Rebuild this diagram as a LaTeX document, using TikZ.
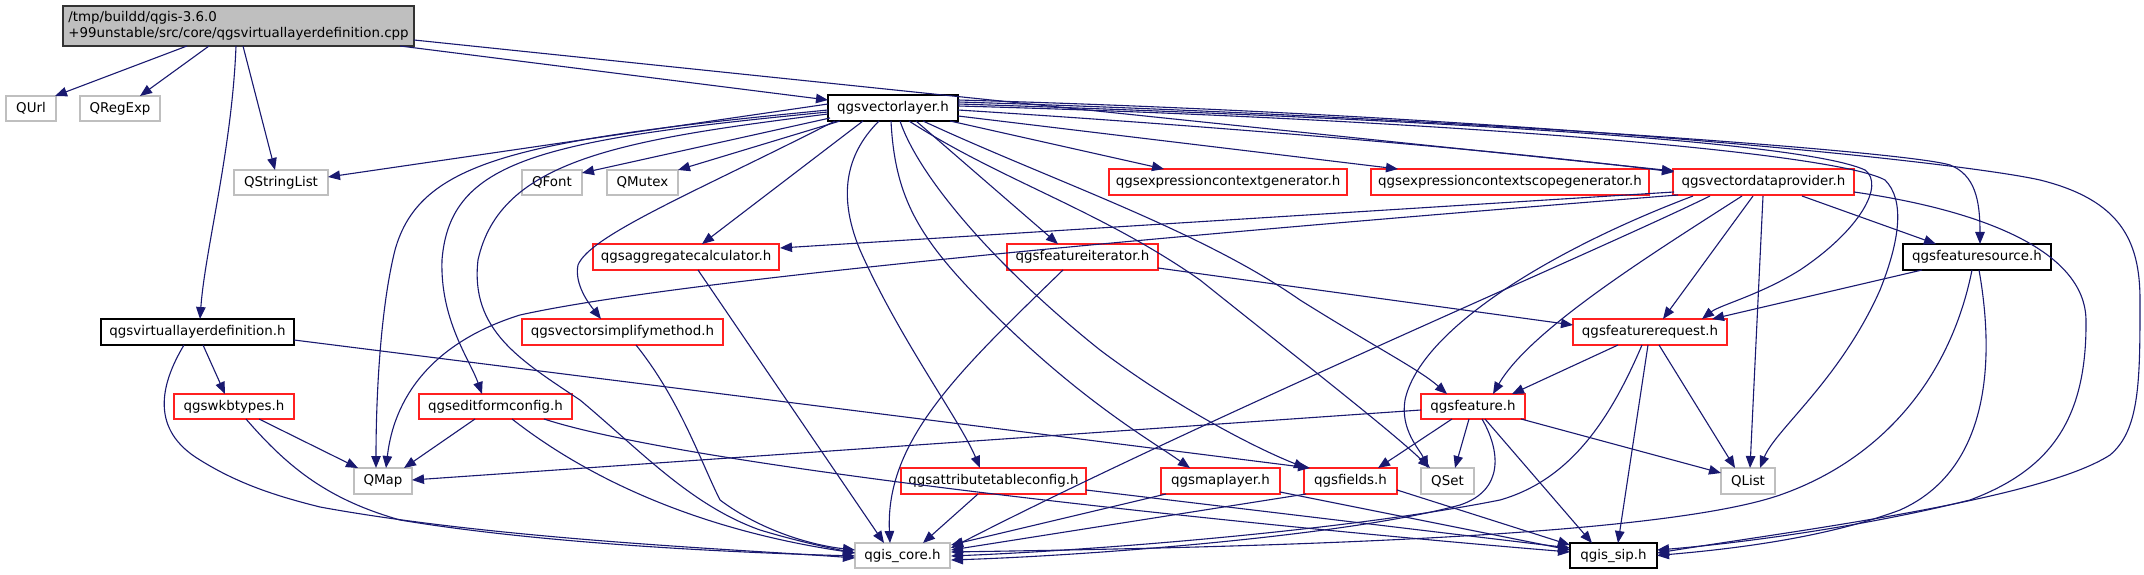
\documentclass[tikz,border=0pt]{standalone}
\usepackage{fontspec}
\setmainfont{DejaVu Sans}
\usetikzlibrary{arrows.meta,calc}
\definecolor{edgeblue}{HTML}{191970}
\definecolor{boxgray}{HTML}{BFBFBF}
\definecolor{boxred}{HTML}{FF2020}
\tikzset{
  box/.style={draw, line width=1.2bp, minimum height=26bp, inner sep=0pt, text=black,
    font=\fontsize{13.4bp}{15.5bp}\selectfont},
  gbox/.style={box, draw=boxgray},
  rbox/.style={box, draw=boxred},
  bbox/.style={box, draw=black},
  dep/.style={draw=edgeblue, line width=1.1bp, -{Triangle[length=12bp,width=9.5bp]}}
}
\begin{document}
\begin{tikzpicture}[x=1bp,y=-1bp]
\useasboundingbox[fill=white] (0,0) rectangle (2144,575);
% nodes
\node[box, fill=boxgray, draw=black!80, minimum width=351bp, minimum height=40bp, align=left] (root) at (238.5,26) {/tmp/buildd/qgis-3.6.0\\+99unstable/src/core/qgsvirtuallayerdefinition.cpp};
\node[gbox, minimum width=50bp, minimum height=25bp] (qurl) at (31,108.5) {QUrl};
\node[gbox, minimum width=80bp, minimum height=25bp] (qregexp) at (120,108.5) {QRegExp};
\node[gbox, minimum width=94bp, minimum height=25bp] (qsl) at (281,182.5) {QStringList};
\node[gbox, minimum width=60bp, minimum height=25bp] (qfont) at (552,182.5) {QFont};
\node[gbox, minimum width=71bp, minimum height=25bp] (qmutex) at (642.5,182.5) {QMutex};
\node[bbox, minimum width=130bp] (vl) at (893,108) {qgsvectorlayer.h};
\node[rbox, minimum width=238bp] (egen) at (1228,182) {qgsexpressioncontextgenerator.h};
\node[rbox, minimum width=278bp] (escope) at (1510,182) {qgsexpressioncontextscopegenerator.h};
\node[rbox, minimum width=181bp] (prov) at (1763.5,182) {qgsvectordataprovider.h};
\node[bbox, minimum width=148bp] (fsrc) at (1977,257) {qgsfeaturesource.h};
\node[rbox, minimum width=186bp] (agg) at (686,257) {qgsaggregatecalculator.h};
\node[rbox, minimum width=151bp] (fit) at (1082.5,257) {qgsfeatureiterator.h};
\node[bbox, minimum width=193bp] (vld) at (197.5,332) {qgsvirtuallayerdefinition.h};
\node[rbox, minimum width=201bp] (vsm) at (622.5,332) {qgsvectorsimplifymethod.h};
\node[rbox, minimum width=154bp] (freq) at (1650,332) {qgsfeaturerequest.h};
\node[rbox, minimum width=120bp, minimum height=25bp] (wkb) at (234,406.5) {qgswkbtypes.h};
\node[rbox, minimum width=153bp, minimum height=25bp] (efc) at (495.5,406.5) {qgseditformconfig.h};
\node[rbox, minimum width=104bp, minimum height=25bp] (feat) at (1473,406.5) {qgsfeature.h};
\node[gbox, minimum width=58bp] (qmap) at (383,481) {QMap};
\node[rbox, minimum width=185bp] (atc) at (993.5,481) {qgsattributetableconfig.h};
\node[rbox, minimum width=119bp] (ml) at (1220.5,481) {qgsmaplayer.h};
\node[rbox, minimum width=93bp] (fld) at (1350.5,481) {qgsfields.h};
\node[gbox, minimum width=53bp] (qset) at (1447.5,481) {QSet};
\node[gbox, minimum width=54bp] (qlist) at (1748,481) {QList};
\node[gbox, minimum width=95bp, minimum height=25bp] (core) at (902.5,555.5) {qgis\_core.h};
\node[bbox, minimum width=87bp, minimum height=25bp] (sip) at (1613.5,555.5) {qgis\_sip.h};
% root edges
\draw[dep] ($(root)+(-51.5,20)$) -- ($(qurl)+(24,-12.5)$);
\draw[dep] ($(root)+(-29.5,20)$) -- ($(qregexp)+(20,-12.5)$);
\draw[dep] ($(root)+(-2.5,20)$) .. controls (232,150) and (205,250) .. ($(vld)+(2.5,-13)$);
\draw[dep] ($(root)+(4.5,20)$) -- ($(qsl)+(-6,-12.5)$);
\draw[dep] ($(root)+(161.5,20)$) -- ($(vl)+(-65,-8)$);
\draw[dep] ($(root)+(175.5,14)$) -- ($(prov)+(-89.5,-11)$);
% vectorlayer edges
\draw[dep] ($(vl)+(-65,-4)$) -- ($(qsl)+(47,-5.5)$);
\draw[dep] ($(vl)+(-63,10)$) -- ($(qfont)+(30,-9.5)$);
\draw[dep] ($(vl)+(-53,13)$) -- ($(qmutex)+(35.5,-12.5)$);
\draw[dep] ($(vl)+(-30,13)$) -- ($(agg)+(16,-13)$);
\draw[dep] ($(vl)+(-65,2)$) .. controls (520,140) and (420,160) .. (395,250) .. controls (380,310) and (376,400) .. ($(qmap)+(-7,-13)$);
\draw[dep] ($(vl)+(-65,4)$) .. controls (540,140) and (450,160) .. (442,260) .. controls (440,320) and (470,360) .. ($(efc)+(-13.5,-12.5)$);
\draw[dep] ($(vl)+(-65,6)$) .. controls (620,140) and (500,160) .. (478,260) .. controls (470,330) and (520,360) .. (580,400) .. controls (640,450) and (690,505) .. (760,530) .. controls (800,542) and (830,548) .. ($(core)+(-47.5,-2.5)$);
\draw[dep] ($(vl)+(-58,13)$) .. controls (700,190) and (590,235) .. (578,265) .. controls (574,285) and (590,305) .. ($(vsm)+(-21.5,-13)$);
\draw[dep] ($(vl)+(-14,13)$) .. controls (850,150) and (835,190) .. (860,250) .. controls (900,340) and (960,420) .. ($(atc)+(-13.5,-13)$);
\draw[dep] ($(vl)+(-2,13)$) .. controls (895,200) and (920,240) .. (990,310) .. controls (1080,400) and (1150,440) .. ($(ml)+(-30.5,-13)$);
\draw[dep] ($(vl)+(7,13)$) .. controls (920,180) and (1000,270) .. (1100,350) .. controls (1180,410) and (1260,450) .. ($(fld)+(-44.5,-13)$);
\draw[dep] ($(vl)+(16,13)$) .. controls (1000,180) and (1100,210) .. (1200,280) .. controls (1300,360) and (1390,430) .. ($(qset)+(-17.5,-13)$);
\draw[dep] ($(vl)+(30,13)$) .. controls (1050,180) and (1200,230) .. (1300,300) .. controls (1380,350) and (1420,370) .. ($(feat)+(-26,-12.5)$);
\draw[dep] ($(vl)+(23,13)$) -- ($(fit)+(-24.5,-13)$);
\draw[dep] ($(vl)+(57,13)$) -- ($(egen)+(-64,-13)$);
\draw[dep] ($(vl)+(65,8)$) -- ($(escope)+(-112,-13)$);
\draw[dep] ($(vl)+(65,2)$) .. controls (1200,125) and (1500,150) .. ($(prov)+(-89.5,-10)$);
\draw[dep] ($(vl)+(65,-4)$) .. controls (1400,118) and (1800,140) .. (1865,170) .. controls (1885,185) and (1860,230) .. (1800,270) .. controls (1760,295) and (1720,305) .. ($(freq)+(52,-13)$);
\draw[dep] ($(vl)+(65,-2)$) .. controls (1400,118) and (1830,150) .. (1885,180) .. controls (1905,200) and (1900,240) .. (1880,290) .. controls (1840,380) and (1775,430) .. ($(qlist)+(12,-13)$);
\draw[dep] ($(vl)+(65,-6)$) .. controls (1400,115) and (1900,150) .. (1950,165) .. controls (1975,175) and (1980,200) .. ($(fsrc)+(3,-13)$);
\draw[dep] ($(vl)+(65,-8)$) .. controls (1500,115) and (1950,160) .. (2040,180) .. controls (2120,200) and (2140,240) .. (2140,300) .. controls (2140,380) and (2140,430) .. (2110,455) .. controls (2040,500) and (1800,530) .. ($(sip)+(43.5,-2.5)$);
% provider edges
\draw[dep] ($(prov)+(-89.5,10)$) -- ($(agg)+(94,-9)$);
\draw[dep] ($(prov)+(-85.5,13)$) .. controls (1300,225) and (700,275) .. (520,315) .. controls (440,340) and (395,390) .. ($(qmap)+(3,-13)$);
\draw[dep] ($(prov)+(-53.5,14)$) .. controls (1600,250) and (1200,420) .. ($(core)+(48.5,-7.5)$);
\draw[dep] ($(prov)+(-70.5,14)$) .. controls (1550,250) and (1420,330) .. (1405,400) .. controls (1400,430) and (1420,450) .. ($(qset)+(-19.5,-13)$);
\draw[dep] ($(prov)+(-21.5,14)$) .. controls (1650,255) and (1530,330) .. ($(feat)+(20,-12.5)$);
\draw[dep] ($(prov)+(-10.5,14)$) -- ($(freq)+(13,-13)$);
\draw[dep] ($(prov)+(-0.5,14)$) -- ($(qlist)+(2,-13)$);
\draw[dep] ($(prov)+(38.5,14)$) -- ($(fsrc)+(-41,-13)$);
\draw[dep] ($(prov)+(90.5,10)$) .. controls (1980,210) and (2085,250) .. (2086,320) .. controls (2087,420) and (2050,470) .. (1970,500) .. controls (1850,530) and (1720,545) .. ($(sip)+(43.5,-5.5)$);
% featuresource edges
\draw[dep] ($(fsrc)+(-55,13)$) -- ($(freq)+(62,-13)$);
\draw[dep] ($(fsrc)+(-5,13)$) .. controls (1950,380) and (1880,460) .. (1780,495) .. controls (1650,540) and (1200,548) .. ($(core)+(48.5,-3.5)$);
\draw[dep] ($(fsrc)+(2,13)$) .. controls (1995,360) and (1990,470) .. (1900,510) .. controls (1820,540) and (1720,550) .. ($(sip)+(43.5,0)$);
% featurerequest edges
\draw[dep] ($(freq)+(-32,13)$) -- ($(feat)+(39,-12.5)$);
\draw[dep] ($(freq)+(9,13)$) -- ($(qlist)+(-13,-13)$);
\draw[dep] ($(freq)+(-2,13)$) -- ($(sip)+(4.5,-12.5)$);
\draw[dep] ($(freq)+(-8,13)$) .. controls (1610,420) and (1570,480) .. (1500,500) .. controls (1350,530) and (1100,550) .. ($(core)+(48.5,0.5)$);
% feature edges
\draw[dep] ($(feat)+(-52,3.5)$) -- ($(qmap)+(29,-1)$);
\draw[dep] ($(feat)+(-4,12.5)$) -- ($(qset)+(7.5,-13)$);
\draw[dep] ($(feat)+(-21,12.5)$) -- ($(fld)+(27.5,-13)$);
\draw[dep] ($(feat)+(48,12.5)$) -- ($(qlist)+(-27,-8)$);
\draw[dep] ($(feat)+(12,12.5)$) -- ($(sip)+(-21.5,-12.5)$);
\draw[dep] ($(feat)+(9,12.5)$) .. controls (1500,450) and (1505,490) .. (1460,505) .. controls (1350,535) and (1100,555) .. ($(core)+(48.5,4.5)$);
% featureiterator, aggregate, simplify
\draw[dep] ($(fit)+(75.5,11)$) -- ($(freq)+(-77,-7)$);
\draw[dep] ($(fit)+(-19.5,13)$) .. controls (960,370) and (885,440) .. ($(core)+(-12.5,-12.5)$);
\draw[dep] ($(agg)+(12,13)$) -- ($(core)+(-18.5,-12.5)$);
\draw[dep] ($(vsm)+(13.5,13)$) .. controls (680,400) and (700,460) .. (720,500) .. controls (760,530) and (810,545) .. ($(core)+(-47.5,-5.5)$);
% virtuallayerdefinition
\draw[dep] ($(vld)+(5.5,13)$) -- ($(wkb)+(-9,-12.5)$);
\draw[dep] ($(vld)+(96.5,8)$) -- ($(fld)+(-40.5,-13)$);
\draw[dep] ($(vld)+(-13.5,13)$) .. controls (160,385) and (150,430) .. (200,460) .. controls (240,485) and (280,497) .. (320,507) .. controls (500,540) and (750,550) .. ($(core)+(-47.5,2.5)$);
% wkbtypes
\draw[dep] ($(wkb)+(25,12.5)$) -- ($(qmap)+(-25,-13)$);
\draw[dep] ($(wkb)+(12,12.5)$) .. controls (290,470) and (330,500) .. (400,520) .. controls (550,545) and (750,553) .. ($(core)+(-47.5,0.5)$);
% editformconfig
\draw[dep] ($(efc)+(-20.5,12.5)$) -- ($(qmap)+(21,-13)$);
\draw[dep] ($(efc)+(16.5,12.5)$) .. controls (590,480) and (700,530) .. ($(core)+(-47.5,-2.5)$);
\draw[dep] ($(efc)+(48.5,12.5)$) .. controls (700,470) and (1300,530) .. ($(sip)+(-43.5,-3.5)$);
% attributetableconfig, maplayer, fields
\draw[dep] ($(atc)+(-15.5,13)$) -- ($(core)+(20.5,-12.5)$);
\draw[dep] ($(atc)+(92.5,9)$) -- ($(sip)+(-43.5,-7.5)$);
\draw[dep] ($(ml)+(-54.5,13)$) -- ($(core)+(48.5,-10.5)$);
\draw[dep] ($(ml)+(59.5,11)$) -- ($(sip)+(-43.5,-5.5)$);
\draw[dep] ($(fld)+(-44.5,13)$) -- ($(core)+(48.5,-5.5)$);
\draw[dep] ($(fld)+(46.5,9)$) -- ($(sip)+(-43.5,-10.5)$);
\end{tikzpicture}
\end{document}
